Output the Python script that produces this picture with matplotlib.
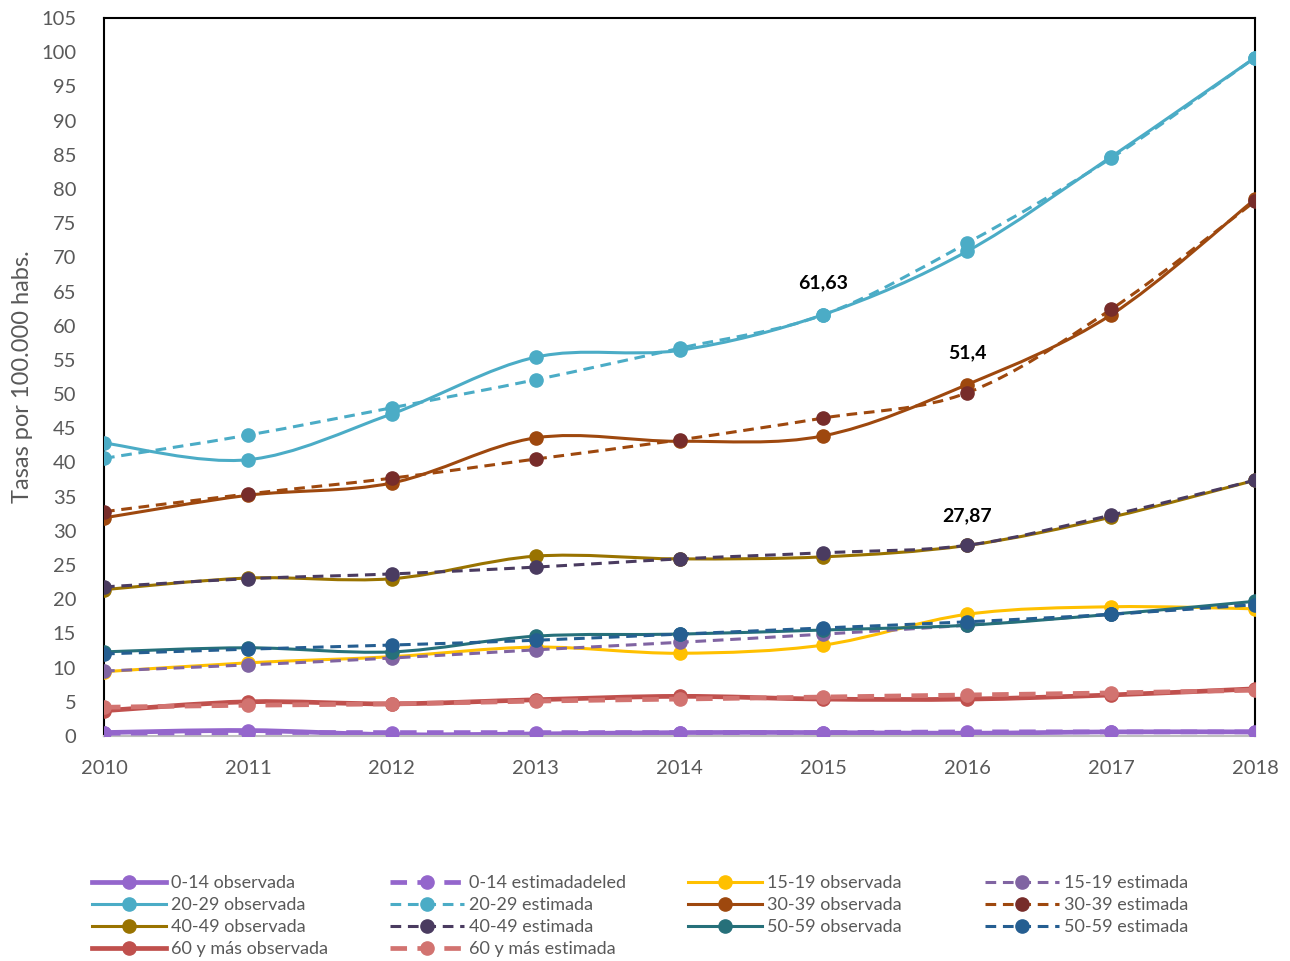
import matplotlib
matplotlib.use("Agg")
import matplotlib.pyplot as plt
import numpy as np
from matplotlib.path import Path
from matplotlib.patches import PathPatch
from matplotlib.lines import Line2D

plt.rcParams['font.family'] = ['Lato', 'DejaVu Sans']

years = [2010, 2011, 2012, 2013, 2014, 2015, 2016, 2017, 2018]

obs_0_14 = [0.5, 0.8, 0.2, 0.3, 0.5, 0.5, 0.4, 0.6, 0.6]
est_0_14 = [0.4, 0.5, 0.5, 0.5, 0.5, 0.5, 0.6, 0.6, 0.6]
obs_15_19 = [9.4, 10.7, 11.6, 13.0, 12.1, 13.3, 17.8, 18.9, 18.6]
est_15_19 = [9.5, 10.4, 11.4, 12.6, 13.7, 14.9, 16.2, 17.8, 19.3]
obs_20_29 = [42.85, 40.4, 47.1, 55.4, 56.4, 61.63, 70.9, 84.7, 99.2]
est_20_29 = [40.6, 44.0, 48.0, 52.1, 56.7, 61.6, 72.1, 84.5, 99.2]
obs_30_39 = [31.9, 35.2, 37.0, 43.6, 43.1, 43.9, 51.4, 61.6, 78.5]
est_30_39 = [32.8, 35.4, 37.7, 40.5, 43.3, 46.5, 50.2, 62.4, 78.2]
obs_40_49 = [21.4, 23.1, 23.0, 26.3, 25.9, 26.2, 27.87, 32.0, 37.4]
est_40_49 = [21.8, 23.0, 23.7, 24.7, 25.9, 26.8, 27.9, 32.3, 37.4]
obs_50_59 = [12.3, 12.9, 12.3, 14.6, 14.9, 15.5, 16.2, 17.8, 19.7]
est_50_59 = [12.0, 12.7, 13.3, 14.0, 14.9, 15.8, 16.7, 17.8, 19.2]
obs_60 = [3.7, 5.0, 4.7, 5.3, 5.8, 5.4, 5.4, 6.0, 6.9]
est_60 = [4.2, 4.5, 4.7, 5.1, 5.4, 5.7, 6.0, 6.3, 6.7]

labels = ['0-14 observada', '0-14 estimadadeled', '15-19 observada', '15-19 estimada',
          '20-29 observada', '20-29 estimada', '30-39 observada', '30-39 estimada',
          '40-49 observada', '40-49 estimada', '50-59 observada', '50-59 estimada',
          '60 y más observada', '60 y más estimada']
values = [obs_0_14, est_0_14, obs_15_19, est_15_19, obs_20_29, est_20_29,
          obs_30_39, est_30_39, obs_40_49, est_40_49, obs_50_59, est_50_59,
          obs_60, est_60]
line_colors = ['#9466CC', '#9466CC', '#FFC000', '#8064A2', '#4BACC6', '#4BACC6',
               '#9E480E', '#9E480E', '#997300', '#4A3B60', '#26707A', '#255E91',
               '#C0504D', '#D27370']
marker_colors = ['#9466CC', '#9466CC', '#FFC000', '#8064A2', '#4BACC6', '#4BACC6',
                 '#9E480E', '#772C2A', '#997300', '#4A3B60', '#26707A', '#255E91',
                 '#C0504D', '#D27370']
dashed = [False, True] * 7
widths = [3.4, 3.4, 2.2, 2.2, 2.2, 2.2, 2.2, 2.2, 2.2, 2.2, 2.2, 2.2, 3.4, 3.4]

annot = [(2015, 61.63, '61,63', 4.6), (2016, 51.4, '51,4', 4.6), (2016, 27.87, '27,87', 4.4)]


def smooth_path(x, y):
    # excel-like smoothed line: bezier through the points
    pts = np.column_stack([x, y]).astype(float)
    verts = [pts[0]]
    codes = [Path.MOVETO]
    n = len(pts)
    for i in range(n - 1):
        p0 = pts[max(i - 1, 0)]
        p1 = pts[i]
        p2 = pts[i + 1]
        p3 = pts[min(i + 2, n - 1)]
        c1 = p1 + (p2 - p0) / 6.0
        c2 = p2 - (p3 - p1) / 6.0
        verts += [c1, c2, p2]
        codes += [Path.CURVE4] * 3
    return Path(verts, codes)


fig = plt.figure(figsize=(12.9, 9.61), dpi=100)
ax = fig.add_axes([104 / 1290, 1 - 736 / 961, (1255 - 104) / 1290, (736 - 18) / 961])

handles = []
for i, (lab, vals) in enumerate(zip(labels, values)):
    lw = widths[i]
    ls = (0, (3.5, 2.2)) if dashed[i] else '-'
    patch = PathPatch(smooth_path(years, vals), fill=False, edgecolor=line_colors[i],
                      lw=lw, linestyle=ls, zorder=2 + i, capstyle='butt')
    ax.add_patch(patch)
    ax.plot(years, vals, ls='none', marker='o', ms=9.5, color=marker_colors[i],
            zorder=2 + i)
    h = Line2D([], [], color=line_colors[i], lw=lw, linestyle=ls, marker='o', ms=9.5,
               markerfacecolor=marker_colors[i], markeredgecolor=marker_colors[i])
    handles.append(h)

for xx, yy, txt, off in annot:
    ax.text(xx, yy + off, txt, ha='center', va='center', fontsize=14,
            fontweight='bold', color='black', zorder=30)

ax.set_xlim(2010, 2018)
ax.set_ylim(0, 105)
ax.set_yticks(np.arange(0, 106, 5))
ax.set_xticks(years)
ax.tick_params(length=0, labelsize=14.5, colors='#595959')
ax.tick_params(axis='x', pad=17)
ax.tick_params(axis='y', pad=20)
for s in ['left', 'right', 'top']:
    ax.spines[s].set_color('black')
    ax.spines[s].set_linewidth(1.5)
ax.spines['bottom'].set_color('#BFBFBF')
ax.spines['bottom'].set_linewidth(1.5)
ax.set_ylabel('Tasas por 100.000 habs.', fontsize=17, color='#595959', labelpad=6)

col_x = [92, 390, 688, 985]
for c in range(4):
    hh = handles[c::4]
    ll = labels[c::4]
    fig.legend(hh, ll, loc='upper left', bbox_to_anchor=(col_x[c] / 1290, 1 - 875 / 961),
               frameon=False, fontsize=13, handlelength=4.1, handletextpad=0.3,
               labelspacing=0.34, borderpad=0, borderaxespad=0, labelcolor='#595959')

fig.savefig('out.png', dpi=100)
